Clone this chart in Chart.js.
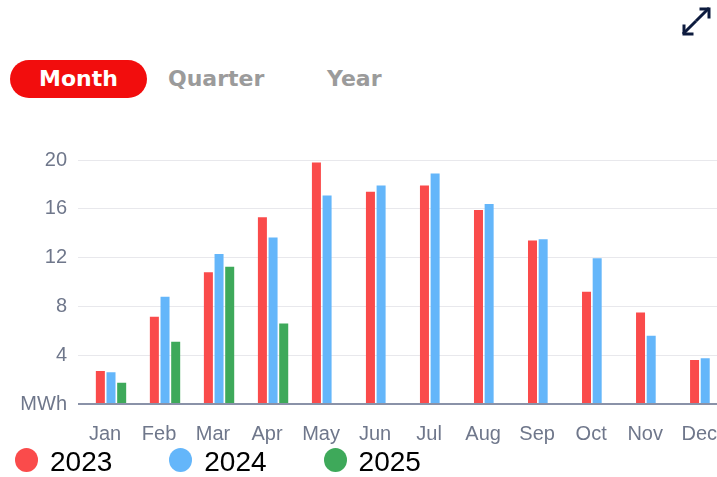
<!DOCTYPE html>
<html>
<head>
<meta charset="utf-8">
<script src="https://cdn.jsdelivr.net/npm/chart.js@4.4.1/dist/chart.umd.min.js"></script>
<style>
  html, body { margin: 0; padding: 0; background: #fff; }
  body { width: 717px; height: 477px; overflow: hidden; position: relative; font-family: "Liberation Sans", Arial, sans-serif; }
  .tabs { position: absolute; left: 10px; top: 60px; height: 38px; }
  .tab { position: absolute; top: 0; height: 38px; line-height: 38px; font-family: "DejaVu Sans", sans-serif; font-weight: bold; font-size: 22px; color: #9b9b9b; white-space: nowrap; }
  .tab.active { background: #f20d0d; color: #fff; border-radius: 19px; width: 137px; text-align: center; left: 0; }
  .expand { position: absolute; left: 678px; top: 4px; }
  .chart-box { position: absolute; left: 0; top: 130px; width: 741px; height: 334px; }
  .legend { position: absolute; left: 15px; top: 448px; height: 28px; display: flex; align-items: center; }
  .legend-item { display: inline-flex; align-items: center; margin-right: 57px; }
  .legend-dot { width: 23px; height: 24px; border-radius: 50%; margin-top: -4px; }
  .legend-text { margin-left: 12px; font-size: 28px; color: #000; }
</style>
</head>
<body>
<svg class="expand" width="36" height="36" viewBox="0 0 36 36">
  <g fill="none" stroke="#0d1b3e" stroke-width="3" stroke-linecap="square">
    <line x1="19" y1="16" x2="30" y2="5"/>
    <polyline points="23,5 31,5 31,13"/>
    <line x1="17" y1="18" x2="6" y2="29"/>
    <polyline points="6,22 6,30 14,30"/>
  </g>
</svg>
<div class="tabs">
  <div class="tab active">Month</div>
  <div class="tab" style="left:158px">Quarter</div>
  <div class="tab" style="left:317px">Year</div>
</div>
<div class="chart-box"><canvas id="chart"></canvas></div>
<div class="legend" id="legend"></div>
<script>
var months = ['Jan', 'Feb', 'Mar', 'Apr', 'May', 'Jun', 'Jul', 'Aug', 'Sep', 'Oct', 'Nov', 'Dec'];
var values2023 = [2.7, 7.15, 10.8, 15.3, 19.8, 17.4, 17.9, 15.9, 13.4, 9.2, 7.5, 3.6];
var values2024 = [2.6, 8.8, 12.3, 13.65, 17.1, 17.9, 18.9, 16.4, 13.5, 11.95, 5.6, 3.75];
var values2025 = [1.75, 5.1, 11.25, 6.6, null, null, null, null, null, null, null, null];
var yTicks = [0, 4, 8, 12, 16, 20];
var unitLabel = 'MWh';

var tickColor = '#6f778b';
var chart = null;

function createChart() {
    chart = new Chart(document.getElementById('chart'), {
        type: 'bar',
        data: {
            labels: months,
            datasets: [
                { label: '2023', data: values2023, backgroundColor: '#fa4b4b' },
                { label: '2024', data: values2024, backgroundColor: '#64b6fa' },
                { label: '2025', data: values2025, backgroundColor: '#3ea95a' }
            ]
        },
        options: {
            responsive: true,
            maintainAspectRatio: false,
            animation: false,
            categoryPercentage: 0.592,
            barPercentage: 0.845,
            layout: { padding: { top: 30, left: 0, right: 0, bottom: 0 } },
            plugins: {
                legend: { display: false },
                tooltip: { enabled: false }
            },
            scales: {
                x: {
                    grid: { display: false, drawTicks: false },
                    border: { display: false },
                    ticks: {
                        color: tickColor,
                        font: { family: 'Liberation Sans', size: 20 },
                        padding: 18,
                        labelOffset: -6,
                        maxRotation: 0,
                        autoSkip: false
                    }
                },
                y: {
                    min: 0,
                    max: 20,
                    afterFit: function(scale) { scale.width = 84; },
                    afterBuildTicks: function(scale) {
                        scale.ticks = yTicks.map(function(v) { return { value: v }; });
                    },
                    border: { display: false },
                    grid: {
                        tickLength: 6,
                        color: function(ctx) { return ctx.tick && ctx.tick.value === 0 ? '#8a92a8' : '#e8e8ec'; },
                        lineWidth: function(ctx) { return ctx.tick && ctx.tick.value === 0 ? 2 : 1; }
                    },
                    ticks: {
                        color: tickColor,
                        font: { family: 'Liberation Sans', size: 20 },
                        padding: 11,
                        callback: function(value) { return value === 0 ? unitLabel : value; }
                    }
                }
            }
        }
    });
}

function buildLegend() {
    var box = document.getElementById('legend');
    chart.data.datasets.forEach(function(ds) {
        var item = document.createElement('div');
        item.className = 'legend-item';
        var dot = document.createElement('span');
        dot.className = 'legend-dot';
        dot.style.background = ds.backgroundColor;
        var text = document.createElement('span');
        text.className = 'legend-text';
        text.textContent = ds.label;
        item.appendChild(dot);
        item.appendChild(text);
        box.appendChild(item);
    });
}

createChart();
buildLegend();
</script>
</body>
</html>
